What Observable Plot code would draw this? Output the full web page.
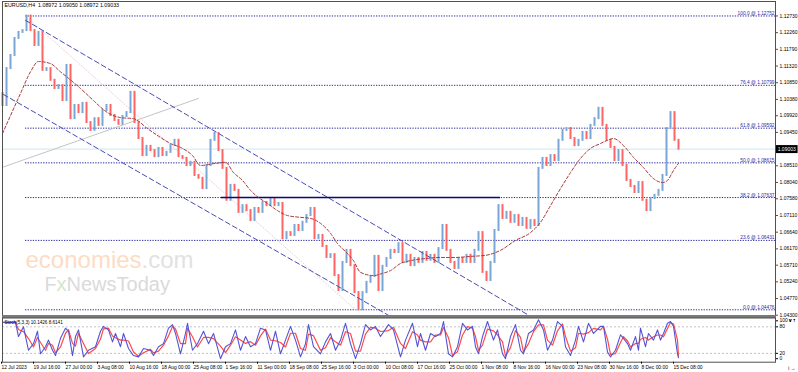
<!DOCTYPE html>
<html><head><meta charset="utf-8">
<script src="https://cdn.jsdelivr.net/npm/d3@7"></script>
<script src="https://cdn.jsdelivr.net/npm/@observablehq/plot@0.6"></script>
<style>
body{margin:0;background:#fff;}
#chart{position:relative;width:798px;height:372px;overflow:hidden;background:#fff;}
#chart svg{position:absolute;left:0;overflow:visible;}
#sep{position:absolute;left:2px;width:774px;top:314.5px;height:3px;background:#7a7a7a;}
</style></head><body><div id="chart"><div id="sep"></div></div>
<script>
// ---- data (H4 bars sampled every 4 bars; index = bar position) ----
const firstOpen = 1.1057;
const closes = [1.1023,1.1127,1.1164,1.1212,1.1229,1.1234,1.1275,1.1234,1.1192,1.1229,
 1.1122,1.1127,1.1094,1.1071,1.1079,1.1037,1.1136,1.0986,1.1023,1.1003,
 1.1029,1.0975,1.0953,1.0986,1.0967,1.1009,1.1023,1.0995,1.0981,1.0970,
 1.0992,1.1003,1.1060,1.0975,1.0930,1.0882,1.0908,1.0896,1.0879,1.0902,
 1.0882,1.0891,1.0910,1.0925,1.0879,1.0874,1.0854,1.0863,1.0826,1.0818,
 1.0789,1.0854,1.0925,1.0944,1.0896,1.0846,1.0756,1.0798,1.0784,1.0722,
 1.0741,1.0727,1.0699,1.0733,1.0722,1.0750,1.0741,1.0761,1.0741,1.0747,
 1.0648,1.0665,1.0657,1.0685,1.0671,1.0694,1.0713,1.0733,1.0648,1.0657,
 1.0626,1.0595,1.0603,1.0544,1.0502,1.0581,1.0615,1.0572,1.0496,1.0448,
 1.0496,1.0525,1.0541,1.0598,1.0502,1.0570,1.0592,1.0615,1.0609,1.0634,
 1.0581,1.0601,1.0572,1.0592,1.0581,1.0609,1.0587,1.0601,1.0581,1.0620,
 1.0685,1.0615,1.0581,1.0564,1.0592,1.0581,1.0601,1.0581,1.0615,1.0665,
 1.0553,1.0530,1.0581,1.0671,1.0741,1.0705,1.0722,1.0694,1.0713,1.0685,
 1.0705,1.0677,1.0699,1.0685,1.0846,1.0874,1.0854,1.0882,1.0868,1.0925,
 1.0953,1.0958,1.0930,1.0910,1.0925,1.0947,1.0930,1.0967,1.0986,1.1015,
 1.0967,1.0925,1.0905,1.0868,1.0896,1.0854,1.0812,1.0795,1.0778,1.0806,
 1.0756,1.0727,1.0761,1.0770,1.0784,1.0826,1.0958,1.1003,1.0925,1.0900];

const maIdx = [0,4.5,7,9,12,14.5,16.25,19.5,22.75,26.25,29.5,32.75,36.25,39.5,42,44.5,47.5,49.5,53.25,55.75,57.75,60,62,64,66.25,68.75,71.25,74.5,77,79.5,82,83.75,86.25,87.75,89.5,92.75,95,97,99.5,102,105.75,109.5,113.25,117,120.75,124.5,128.25,132,134.5,137,139.5,142,144.5,147,149.5,151.25,152.75,155.25,157.75,160.25,162.75,165,166.25,167.75,169];
const maVal = [1.0944,1.1057,1.1118,1.1147,1.1141,1.1118,1.1102,1.1071,1.1037,1.1003,1.0989,1.0986,1.0958,1.0933,1.0916,1.0905,1.0882,1.0854,1.0860,1.0863,1.0834,1.0812,1.0784,1.0764,1.0747,1.0727,1.0713,1.0708,1.0705,1.0691,1.0663,1.0634,1.0606,1.0586,1.0553,1.0544,1.0550,1.0558,1.0578,1.0586,1.0592,1.0595,1.0595,1.0598,1.0601,1.0615,1.0643,1.0665,1.0694,1.0741,1.0789,1.0834,1.0874,1.0902,1.0916,1.0925,1.0930,1.0910,1.0877,1.0848,1.0817,1.0806,1.0812,1.0840,1.0860];

const stochIdx = [0,3.25,4,5.25,6.5,7.75,8.75,9.5,10.75,11.5,12.5,13.25,14.5,15.75,16.5,17.5,18.25,19,20.25,21.5,23.25,24.5,25.25,26.5,27.5,28.25,29.5,30.25,31.5,32.75,34,35.25,37,37.75,39,40.25,41.5,42.5,43.25,44.5,45.75,46.25,47.5,48.75,50.25,51.5,52.75,54.5,55.75,57,58.25,59.5,60.75,62,63.25,64.5,65.75,67,68.25,69.5,70.75,72,73.25,74.5,75.75,76.5,77.75,79.5,80.75,82,83.25,84.5,85.75,87,88.25,89.5,90.75,92,93.25,94.5,96.5,97.75,99.5,100.75,102.5,103.75,104.5,105.75,107,108.25,109.5,110.25,111.5,112.5,113.75,115,116.25,117.5,118.25,119,120,121.25,122.75,123.75,125,125.75,127,128.25,129.5,130.25,131.5,132.75,134,135.25,136.25,137.5,138.75,140,140.75,142,143.25,144,145.25,146.5,147.75,149.5,150.25,151.25,152,153.25,154.5,155.25,156.25,157,158.25,159,159.5,160.75,161.5,162.75,163.75,164.5,165.25,166.25,167,167.75,168.75,169];
const stochK = [90,90,58,80,27,42,70,19,35,50,27,15,54,77,70,15,58,73,12,27,35,70,81,73,46,65,35,65,31,15,12,31,27,15,35,42,77,85,65,19,65,88,27,42,70,42,65,8,35,42,73,27,58,35,42,77,73,27,70,19,50,81,50,12,42,85,35,19,46,65,27,50,88,42,8,42,85,73,81,58,85,73,12,50,88,35,65,27,65,58,65,92,19,12,35,88,73,81,35,19,58,92,50,73,19,8,58,85,27,19,65,73,96,73,27,50,92,81,35,15,50,81,46,88,65,81,81,23,12,27,62,54,42,27,58,27,77,35,65,50,73,50,65,88,92,81,19,10];

const priceTicks = [1.12730,1.12260,1.11790,1.11320,1.10850,1.10380,1.09920,1.09450,1.08510,1.08040,1.07580,1.07110,1.06640,1.06170,1.05710,1.05240,1.04770,1.04300];
const fibLevels = [100.0,76.4,61.8,50.0,38.2,23.6,0.0];
const fibPrices = [1.12752,1.10799,1.09592,1.08615,1.07637,1.06431,1.04476];
const timeLabels = ["12 Jul 2023","19 Jul 16:00","27 Jul 00:00","3 Aug 08:00","10 Aug 16:00","18 Aug 00:00","25 Aug 08:00","1 Sep 16:00","11 Sep 00:00","18 Sep 08:00","25 Sep 16:00","3 Oct 00:00","10 Oct 08:00","17 Oct 16:00","25 Oct 00:00","1 Nov 08:00","8 Nov 16:00","16 Nov 00:00","23 Nov 08:00","30 Nov 16:00","8 Dec 00:00","15 Dec 08:00"];
const stochLevels = [20, 80];
const currentPrice = 1.09003;
const titleText = "EURUSD,H4  1.08972 1.09050 1.08972 1.09033";
const stochText = "Stoch(5,3,3) 10.1426 8.6141";
// drawn objects anchors [index, price]
const fibStart = 5.75, fibEndIdx = 88.25;
const upperChannel = [[5.75,1.1263],[132.5,1.0426]];
const lowerChannel = [[0.25,1.1054],[96.5,1.0432]];
const grayLine = [[0,1.0849],[49,1.1043]];
const levelLine = {x1: 54.75, x2: 124.5, price: 1.0764};

// ---- build ----
const FONT = "'Liberation Sans', Arial, sans-serif";
const UP = "#7aa6d6", DOWN = "#ff6464";
const NAVY = "#2a2aa0";
const xDomain = [0, 193.25];
const yTop = 1.13160, yBot = 1.04315;
const candles = closes.map((c, i) => {
  const o = i ? closes[i - 1] : firstOpen;
  return {i, o, c, hi: Math.max(o, c), lo: Math.min(o, c)};
});
const ma = maIdx.map((x, k) => ({x, y: maVal[k]}));
const stoch = stochIdx.map((i, k) => ({i, v: stochK[k]}));
const fibs = fibLevels.map((l, k) => ({l, p: fibPrices[k]}));
const seg = (s) => [{x: s[0][0], y: s[0][1]}, {x: s[1][0], y: s[1][1]}];

const main = Plot.plot({
  width: 798, height: 316, marginLeft: 2, marginRight: 23, marginTop: 1, marginBottom: 1,
  style: {background: "transparent", fontFamily: FONT, color: "#000"},
  x: {domain: xDomain, axis: null},
  y: {domain: [yBot, yTop]},
  marks: [
    Plot.text(["economies"], {frameAnchor: "top-left", dx: 23, dy: 266, lineAnchor: "bottom", textAnchor: "start", fontSize: 24, fill: "#fddcc4"}),
    Plot.text([".com"], {frameAnchor: "top-left", dx: 139, dy: 266, lineAnchor: "bottom", textAnchor: "start", fontSize: 24, fill: "#e2e2e2"}),
    Plot.text(["F"], {frameAnchor: "top-left", dx: 42, dy: 289, lineAnchor: "bottom", textAnchor: "start", fontSize: 20, fill: "#dadada"}),
    Plot.text(["x"], {frameAnchor: "top-left", dx: 54, dy: 289, lineAnchor: "bottom", textAnchor: "start", fontSize: 20, fill: "#d3e6cc"}),
    Plot.text(["NewsToday"], {frameAnchor: "top-left", dx: 64, dy: 289, lineAnchor: "bottom", textAnchor: "start", fontSize: 20, fill: "#dadada"}),
    Plot.ruleY([currentPrice], {stroke: "#d6ecf2", strokeWidth: 1.2}),
    Plot.ruleY(fibs, {y: "p", x1: fibStart, x2: xDomain[1], stroke: NAVY, strokeDasharray: "1.3,1.3", strokeWidth: 1}),
    Plot.line(seg(grayLine), {x: "x", y: "y", stroke: "#c4c4c4", strokeWidth: 1, clip: true}),
    Plot.line([{x: fibStart, y: fibPrices[0]}, {x: fibEndIdx, y: fibPrices[6]}], {x: "x", y: "y", stroke: "#ecd0d0", strokeDasharray: "1,2", strokeWidth: 1, clip: true}),
    Plot.ruleX(candles, {x: "i", y1: "hi", y2: "lo", stroke: d => d.c >= d.o ? UP : DOWN, strokeWidth: 2, strokeLinecap: "square"}),
    Plot.line(seg(upperChannel), {x: "x", y: "y", stroke: "#4a4ab4", strokeDasharray: "5,3", strokeWidth: 1, clip: true}),
    Plot.line(seg(lowerChannel), {x: "x", y: "y", stroke: "#4a4ab4", strokeDasharray: "5,3", strokeWidth: 1, clip: true}),
    Plot.ruleY([levelLine], {y: "price", x1: "x1", x2: "x2", stroke: "#0a0a70", strokeWidth: 1.4}),
    Plot.line(ma, {x: "x", y: "y", stroke: "#a8383a", strokeDasharray: "3,2", strokeWidth: 1, curve: "monotone-x"}),
    Plot.text(fibs, {x: xDomain[1], y: "p", text: d => `${d.l.toFixed(1)} @ ${d.p.toFixed(5)}`, textAnchor: "end", dx: -1, dy: -2.5, fontSize: 4.8, fill: NAVY}),
    Plot.frame({stroke: "#505050"}),
    Plot.axisY(priceTicks, {anchor: "right", tickSize: 2, tickPadding: 2, fontSize: 5, dy: -0.8, tickFormat: d => d.toFixed(5), stroke: "#505050"}),
    Plot.ruleY([currentPrice], {x1: 193.5, x2: 198.9, stroke: "#000", strokeWidth: 8}),
    Plot.text([currentPrice], {x: 193.8, y: d => d, text: d => d.toFixed(5), textAnchor: "start", fill: "#fff", fontSize: 5}),
    Plot.text([titleText], {frameAnchor: "top-left", dx: 2, dy: 2, textAnchor: "start", lineAnchor: "top", fontSize: 5.3, fill: "#000"})
  ]
});
main.style.top = "0px";

const timeTicks = timeLabels.map((_, k) => k * 8);
const sub = Plot.plot({
  width: 798, height: 57, marginLeft: 2, marginRight: 23, marginTop: 2.5, marginBottom: 10.3,
  style: {background: "transparent", fontFamily: FONT, color: "#000"},
  x: {domain: xDomain},
  y: {domain: [0, 100]},
  marks: [
    Plot.ruleY(stochLevels, {stroke: "#c4c4c4", strokeDasharray: "2,2"}),
    Plot.lineY(stoch, Plot.windowY({k: 2, anchor: "end"}, {x: "i", y: "v", stroke: "#ff4a4a", strokeWidth: 1.2})),
    Plot.lineY(stoch, {x: "i", y: "v", stroke: "#5454d4", strokeWidth: 1.1}),
    Plot.frame({stroke: "#505050"}),
    Plot.axisY(stochLevels, {anchor: "right", tickSize: 2, tickPadding: 2, fontSize: 5}),
    Plot.axisY([100], {anchor: "right", tickSize: 2, tickPadding: 2, fontSize: 5, dy: 2.8}),
    Plot.axisY([0], {anchor: "right", tickSize: 2, tickPadding: 2, fontSize: 5, dy: -3.5}),
    Plot.axisX(timeTicks, {anchor: "bottom", tickSize: 2, tickPadding: 1, fontSize: 4.9, textAnchor: "start", dx: -1, tickFormat: d => timeLabels[Math.round(d / 8)]}),
    Plot.text([stochText], {frameAnchor: "top-left", dx: 2, dy: 2.5, textAnchor: "start", lineAnchor: "top", fontSize: 4.6, fill: "#000"})
  ]
});
sub.style.top = "315px";

const root = document.getElementById("chart");
root.insertBefore(main, root.firstChild);
root.appendChild(sub);
</script>
</body></html>
